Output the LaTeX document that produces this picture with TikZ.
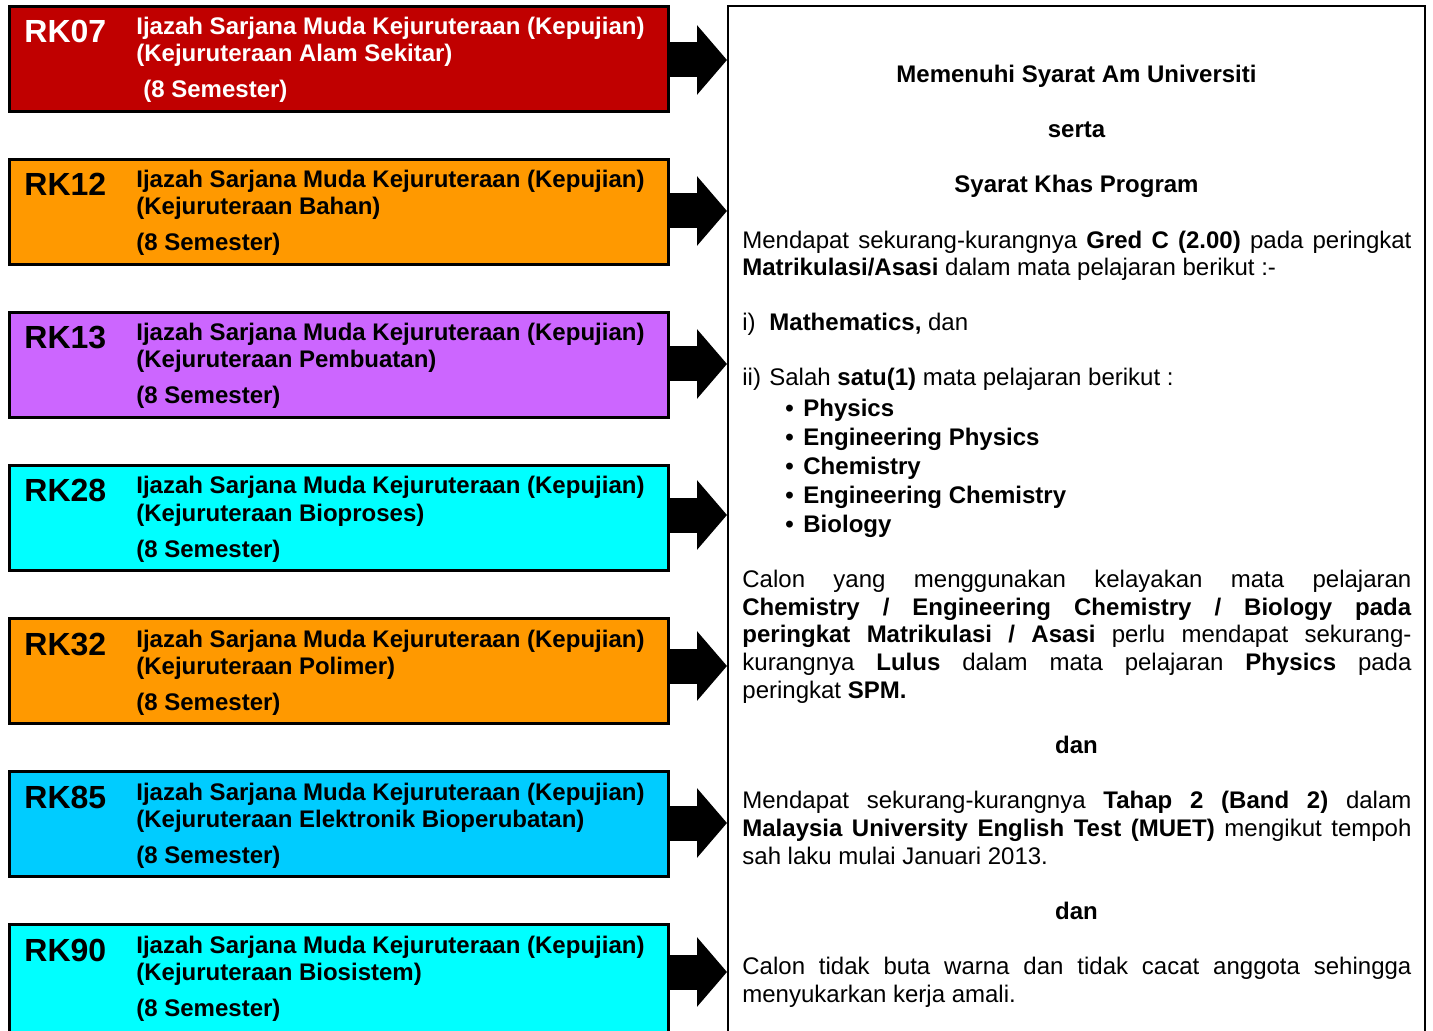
\documentclass[tikz,border=0pt]{standalone}
\usepackage{fontspec}
\setmainfont{Liberation Sans}
\usetikzlibrary{arrows.meta}

\definecolor{rkred}{HTML}{C00000}
\definecolor{rkorange}{HTML}{FF9900}
\definecolor{rkviolet}{HTML}{CC66FF}
\definecolor{rkcyan}{HTML}{00FFFF}
\definecolor{rkblue}{HTML}{00CCFF}

\newcommand\jline[1]{\makebox[334.5pt][s]{#1}}
\newcommand\subjitem{\textbullet\hspace{4.8pt}}

\begin{document}
\begin{tikzpicture}[
    x=0.5pt,y=-0.5pt,
    progbox/.style={
        draw,
        line width=1.5pt,
        minimum width=329.5pt,
        inner sep=0pt,
        anchor=north west,
    },
    codetext/.style={font=\fontsize{16}{18}\selectfont\bfseries, inner sep=0pt, anchor=base west},
    progtext/.style={font=\fontsize{12}{13.5}\selectfont\bfseries, inner sep=0pt, anchor=base west, align=left},
    reqtext/.style={font=\fontsize{12}{13.8}\selectfont, inner sep=0pt, anchor=base west, align=left},
    reqhead/.style={font=\fontsize{12}{13.8}\selectfont\bfseries, inner sep=0pt, anchor=base},
    bigarrow/.style={line width=17.5pt, -{Triangle[width=34pt,length=15pt]}},
]

\useasboundingbox (0,0) rectangle (1433,1031);
\clip (0,0) rectangle (1433,1031);

\def\MID{1076.5}    %centre of requirement column
\def\LM{742}        %left margin of requirement column
% note: multi-line nodes sit on the baseline of their LAST line

% requirement frame, open at the bottom
\node[draw, line width=1pt, minimum width=348.5pt, minimum height=600pt,
      inner sep=0pt, anchor=north west] (req) at (727,5) {};

% programme boxes and arrows
\foreach \code/\ty/\bh/\col/\txt/\dept/\sx/\ay in {
    RK07/5/52.5/rkred/white/Alam Sekitar/143/60,
    RK12/158/52.5/rkorange/black/Bahan/136/211,
    RK13/311/52.5/rkviolet/black/Pembuatan/136/364,
    RK28/464/52.5/rkcyan/black/Bioproses/136/515,
    RK32/617/52.5/rkorange/black/Polimer/136/666,
    RK85/770/52.5/rkblue/black/Elektronik Bioperubatan/136/823,
    RK90/923/65/rkcyan/black/Biosistem/136/972}
{
    \node[progbox, fill=\col, minimum height=\bh pt] (\code) at (8,\ty) {};
    \node[codetext, text=\txt] (\code-id) at (24,\ty+38) {\code};
    \node[progtext, text=\txt] (\code-name) at (136,\ty+57)
        {Ijazah Sarjana Muda Kejuruteraan (Kepujian)\\(Kejuruteraan \dept)};
    \node[progtext, text=\txt] (\code-sem) at (\sx,\ty+93) {(8 Semester)};
    \draw[bigarrow] (\code.east |- 0,\ay) -- (req.west |- 0,\ay);
}

\node[reqhead] (h-am)    at (\MID,83)  {Memenuhi Syarat Am Universiti};
\node[reqhead] (h-serta) at (\MID,138) {serta};
\node[reqhead] (h-khas)  at (\MID,193) {Syarat Khas Program};

\node[reqtext] (gred) at (\LM,276)
    {\jline{Mendapat sekurang-kurangnya \textbf{Gred C (2.00)} pada peringkat}\\
     \textbf{Matrikulasi/Asasi} dalam mata pelajaran berikut :-};
\node[reqtext] (math)  at (\LM,331) {\makebox[13.5pt][l]{i)}\textbf{Mathematics,} dan};
\node[reqtext] (salah) at (\LM,386) {\makebox[13.5pt][l]{ii)}Salah \textbf{satu(1)} mata pelajaran berikut :};
\node[reqtext, font=\fontsize{12}{13.8}\selectfont\bfseries] (subj) at (785,532)
    {\subjitem Physics\\[0.7pt]
     \subjitem Engineering Physics\\[0.7pt]
     \subjitem Chemistry\\[0.7pt]
     \subjitem Engineering Chemistry\\[0.7pt]
     \subjitem Biology};

\node[reqtext] (calon) at (\LM,698)
    {\jline{Calon yang menggunakan kelayakan mata pelajaran}\\
     \jline{\textbf{Chemistry / Engineering Chemistry / Biology pada}}\\
     \jline{\textbf{peringkat Matrikulasi / Asasi} perlu mendapat sekurang-}\\
     \jline{kurangnya \textbf{Lulus} dalam mata pelajaran \textbf{Physics} pada}\\
     peringkat \textbf{SPM.}};

\node[reqhead] (dan-a) at (\MID,753) {dan};

\node[reqtext] (muet) at (\LM,864)
    {\jline{Mendapat sekurang-kurangnya \textbf{Tahap 2 (Band 2)} dalam}\\
     \jline{\textbf{Malaysia University English Test (MUET)} mengikut tempoh}\\
     sah laku mulai Januari 2013.};

\node[reqhead] (dan-b) at (\MID,919) {dan};

\node[reqtext] (buta) at (\LM,1002)
    {\jline{Calon tidak buta warna dan tidak cacat anggota sehingga}\\
     menyukarkan kerja amali.};

\end{tikzpicture}
\end{document}
